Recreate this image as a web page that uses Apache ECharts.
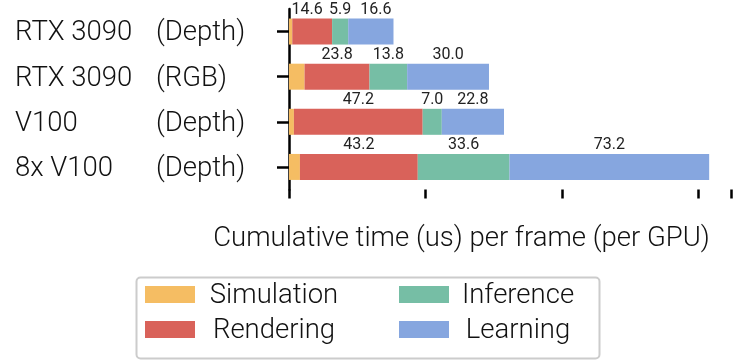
<!DOCTYPE html>
<html lang="en">
<head>
<meta charset="UTF-8">
<title>Cumulative time per frame</title>
<script src="https://cdn.jsdelivr.net/npm/echarts@6/dist/echarts.min.js"></script>
<style>
  html, body { margin: 0; padding: 0; background: #fff; }
</style>
</head>
<body>
<div id="main" style="width: 742px;height: 364px"></div>
<script type="text/javascript">
  // data, top row first
  var gpus = ['RTX 3090', 'RTX 3090', 'V100', '8x V100'];
  var modes = ['(Depth)', '(RGB)', '(Depth)', '(Depth)'];
  var simulation = [1.2, 5.7, 1.8, 4.0];
  var rendering = [14.6, 23.8, 47.2, 43.2];
  var inference = [5.9, 13.8, 7.0, 33.6];
  var learning = [16.6, 30.0, 22.8, 73.2];
  var xTicks = [0, 50, 100, 150];

  var categories = gpus.map(function (g, i) { return g + ' ' + modes[i]; });
  var font = 'Roboto';
  var big = 27.5;

  // nudges so the crowded labels on the top bar don't touch
  var labelNudge = { Rendering: [-5, 0, 0, 0], Learning: [5, 0, 0, 0] };

  var myChart = echarts.init(document.getElementById('main'));

  function barSeries(name, data, color, withLabel) {
    var nudge = labelNudge[name] || [0, 0, 0, 0];
    return {
      name: name,
      type: 'bar',
      stack: 'total',
      barWidth: 26,
      data: data.map(function (v, i) {
        return { value: v, label: { offset: [nudge[i], 0] } };
      }),
      itemStyle: { color: color },
      label: {
        show: withLabel,
        position: 'top',
        distance: 1,
        fontFamily: font,
        fontSize: 16,
        color: '#222',
        formatter: function (p) { return p.value.toFixed(1); }
      }
    };
  }

  function legendText(w) {
    return {
      fontFamily: font,
      fontWeight: 300,
      fontSize: big,
      color: '#111',
      rich: { t: { width: w, align: 'center', padding: [3, 0, 0, 0], fontFamily: font, fontWeight: 300, fontSize: big, lineHeight: 30, color: '#111' } }
    };
  }

  var option = {
    animation: false,
    grid: { left: 289, right: 11, top: 9, bottom: 174.5 },
    xAxis: {
      type: 'value',
      min: xTicks[0],
      max: 162,
      interval: xTicks[1] - xTicks[0],
      name: 'Cumulative time (us) per frame (per GPU)',
      nameLocation: 'middle',
      nameGap: 36,
      nameTextStyle: { fontFamily: font, fontWeight: 300, fontSize: big, color: '#111', padding: [0, 97, 0, 0] },
      axisLine: { lineStyle: { color: '#000', width: 2.5 } },
      axisTick: { show: true, length: 9, lineStyle: { color: '#000', width: 2.5 } },
      axisLabel: { show: false },
      splitLine: { show: false }
    },
    yAxis: {
      type: 'category',
      inverse: true,
      data: categories,
      axisLine: { lineStyle: { color: '#000', width: 2.5 } },
      axisTick: { show: true, alignWithLabel: true, length: 12, lineStyle: { color: '#000', width: 2.5 } },
      axisLabel: {
        margin: 274,
        align: 'left',
        padding: [4, 0, 0, 0],
        fontFamily: font,
        fontWeight: 300,
        fontSize: big,
        color: '#111',
        formatter: function (v, i) { return '{a|' + gpus[i] + '}{b|' + modes[i] + '}'; },
        rich: {
          a: { width: 141, fontFamily: font, fontWeight: 300, fontSize: big, color: '#111' },
          b: { fontFamily: font, fontWeight: 300, fontSize: big, color: '#111' }
        }
      }
    },
    legend: [
      {
        data: ['Simulation', 'Rendering'],
        orient: 'vertical',
        left: 145,
        top: 279,
        padding: 0,
        itemGap: 4,
        itemWidth: 50,
        itemHeight: 17,
        icon: 'rect',
        selectedMode: false,
        formatter: '{t|{name}}',
        textStyle: legendText(148)
      },
      {
        data: ['Inference', 'Learning'],
        orient: 'vertical',
        left: 399,
        top: 279,
        padding: 0,
        itemGap: 4,
        itemWidth: 50,
        itemHeight: 17,
        icon: 'rect',
        selectedMode: false,
        formatter: '{t|{name}}',
        textStyle: legendText(128)
      }
    ],
    graphic: [
      {
        type: 'rect',
        left: 134,
        top: 275,
        shape: { width: 463, height: 81, r: 4 },
        style: { fill: 'none', stroke: '#cccccc', lineWidth: 2 },
        silent: true
      }
    ],
    series: [
      barSeries('Simulation', simulation, '#f5bd63', false),
      barSeries('Rendering', rendering, '#d9625a', true),
      barSeries('Inference', inference, '#76bea5', true),
      barSeries('Learning', learning, '#86a6df', true)
    ]
  };

  myChart.setOption(option);
</script>
</body>
</html>
